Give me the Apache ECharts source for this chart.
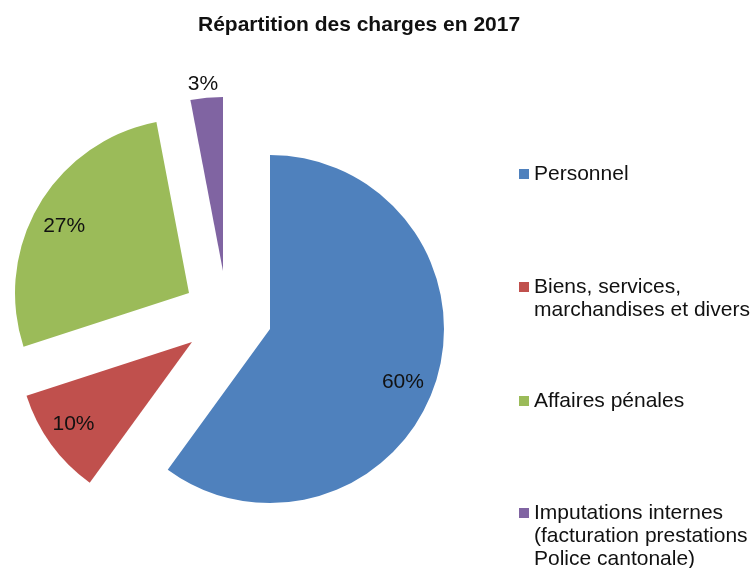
<!DOCTYPE html>
<html>
<head>
<meta charset="utf-8">
<script src="https://cdn.jsdelivr.net/npm/echarts@6/dist/echarts.min.js"></script>
<style>
  html, body { margin: 0; padding: 0; background: #fff; }
  #chart { width: 752px; height: 568px; }
</style>
</head>
<body>
<div id="chart"></div>
<script>
// data
const categories = [
  'Personnel',
  'Biens, services, marchandises et divers',
  'Affaires pénales',
  'Imputations internes (facturation prestations Police cantonale)'
];
const legendLines = [
  ['Personnel'],
  ['Biens, services,', 'marchandises et divers'],
  ['Affaires pénales'],
  ['Imputations internes', '(facturation prestations', 'Police cantonale)']
];
const values = [60, 10, 27, 3];
const colors = ['#4F81BD', '#C0504D', '#9BBB59', '#8064A2'];

// layout: each slice is pulled out of the pie on its own
const R = 174;
const sliceCenters = [[270, 329], [192, 342], [189, 293], [223, 271]];
const labelRings = [[108, 174], [113, 174], [110, 174], [174, 204]];
const labelNudges = [[-4, 9], [0, -4], [0, 7], [-2, 4]];
const legendTops = [162.5, 252.5, 389.5, 455.5];
const LINE_H = 23;
const FONT = '"Liberation Sans", Arial, sans-serif';

const chart = echarts.init(document.getElementById('chart'), null, { renderer: 'canvas' });

function sliceData(keep, showLabel) {
  return categories.map((name, j) => ({
    name,
    value: values[j],
    itemStyle: { color: j === keep && !showLabel ? colors[j] : 'transparent' },
    label: { show: showLabel && j === keep }
  }));
}

const series = [];
categories.forEach((name, i) => {
  series.push({
    type: 'pie',
    silent: true,
    center: sliceCenters[i],
    radius: [0, R],
    startAngle: 90,
    clockwise: true,
    itemStyle: { borderWidth: 0 },
    label: { show: false },
    labelLine: { show: false },
    emphasis: { disabled: true },
    data: sliceData(i, false)
  });
  series.push({
    type: 'pie',
    silent: true,
    center: sliceCenters[i],
    radius: labelRings[i],
    startAngle: 90,
    clockwise: true,
    itemStyle: { borderWidth: 0 },
    label: {
      position: 'inside',
      formatter: '{d}%',
      color: '#111',
      fontSize: 21,
      fontFamily: FONT,
      offset: labelNudges[i]
    },
    labelLine: { show: false },
    emphasis: { disabled: true },
    data: sliceData(i, true)
  });
});

const legends = categories.map((name, i) => ({
  orient: 'vertical',
  left: 519,
  top: legendTops[i],
  padding: 0,
  itemWidth: 10,
  itemHeight: 10,
  itemGap: 0,
  selectedMode: false,
  icon: 'rect',
  data: [{ name, itemStyle: { color: colors[i] } }],
  // blank lines above keep the marker level with the first line
  formatter: () => new Array(legendLines[i].length - 1).fill('').concat(legendLines[i]).join('\n'),
  textStyle: { fontSize: 21, lineHeight: LINE_H, color: '#111', fontFamily: FONT }
}));

chart.setOption({
  animation: false,
  backgroundColor: '#fff',
  title: {
    text: 'Répartition des charges en 2017',
    left: 198,
    top: 15,
    padding: 0,
    textStyle: { fontSize: 21, fontWeight: 'bold', color: '#111', fontFamily: FONT }
  },
  legend: legends,
  series
});
</script>
</body>
</html>
